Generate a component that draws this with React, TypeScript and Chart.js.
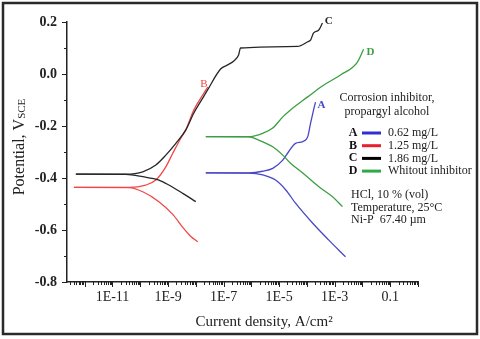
import React, { useEffect, useRef } from "react";
import { Chart, registerables } from "chart.js";

Chart.register(...registerables);

const SERIF = '"Liberation Serif", "Times New Roman", serif';

// Current density (A/cm²) and potential (V vs SCE)
const aAnodicX = [2.29e-8, 7.94e-7, 2.57e-6, 5.89e-6, 1.35e-5, 2.19e-5, 3.89e-5, 7.08e-5, 1.07e-4, 1.35e-4, 1.74e-4, 2.04e-4];
const aAnodicY = [-0.38, -0.38, -0.374, -0.363, -0.331, -0.299, -0.267, -0.26, -0.241, -0.19, -0.138, -0.108];
const aCathodicX = [2.29e-8, 7.94e-7, 2.57e-6, 7.41e-6, 1.74e-5, 3.89e-5, 1.62e-4, 6.03e-4, 2.45e-3];
const aCathodicY = [-0.38, -0.381, -0.388, -0.408, -0.446, -0.497, -0.574, -0.638, -0.703];

const bAnodicX = [4.07e-13, 3.89e-11, 1.58e-10, 3.63e-10, 8.32e-10, 1.48e-9, 2.88e-9, 4.37e-9, 8.51e-9, 1.91e-8, 2.69e-8];
const bAnodicY = [-0.436, -0.436, -0.427, -0.408, -0.357, -0.305, -0.247, -0.215, -0.138, -0.075, -0.05];
const bCathodicX = [4.07e-13, 3.89e-11, 1.23e-10, 4.68e-10, 1.48e-9, 3.39e-9, 6.61e-9, 1.17e-8];
const bCathodicY = [-0.436, -0.437, -0.453, -0.491, -0.54, -0.59, -0.625, -0.645];

const cAnodicX = [4.79e-13, 3.02e-11, 1.23e-10, 3.63e-10, 8.32e-10, 1.91e-9, 4.37e-9, 8.51e-9, 1.91e-8, 2.69e-8, 7.94e-8, 1.41e-7, 2.34e-7, 3.47e-7, 4.07e-7, 4.68e-5, 1.07e-4, 1.35e-4, 1.74e-4, 2.63e-4, 3.63e-4];
const cAnodicY = [-0.385, -0.385, -0.376, -0.35, -0.312, -0.267, -0.215, -0.15, -0.087, -0.06, 0.02, 0.035, 0.05, 0.073, 0.1, 0.106, 0.124, 0.13, 0.158, 0.168, 0.196];
const cCathodicX = [4.79e-13, 3.02e-11, 1.23e-10, 4.68e-10, 1.07e-9, 3.39e-9, 1e-8];
const cCathodicY = [-0.385, -0.386, -0.395, -0.408, -0.427, -0.459, -0.491];

const dAnodicX = [2.29e-8, 7.94e-7, 2.57e-6, 5.89e-6, 1.35e-5, 2.57e-5, 1.07e-4, 3.72e-4, 1.62e-3, 6.61e-3, 1.1e-2];
const dAnodicY = [-0.241, -0.241, -0.228, -0.208, -0.165, -0.138, -0.088, -0.045, -0.004, 0.046, 0.095];
const dCathodicX = [2.29e-8, 7.94e-7, 1.82e-6, 5.89e-6, 1.35e-5, 2.57e-5, 7.08e-5, 2.63e-4, 8.32e-4, 1.91e-3];
const dCathodicY = [-0.241, -0.242, -0.254, -0.28, -0.312, -0.343, -0.381, -0.433, -0.472, -0.51];

const curveKeys = ["A", "B", "C", "D"];
const curveColors = ["#4848c8", "#f04848", "#262626", "#3c9e42"];
const legendColors = ["#3030d0", "#e8202c", "#000000", "#2faa48"];
const legendLabels = ["0.62 mg/L", "1.25 mg/L", "1.86 mg/L", "Whitout inhibitor"];
// curve label anchors (current density, potential)
const curveLabelX = [2.4e-4, 1.45e-8, 4.4e-4, 1.4e-2];
const curveLabelY = [-0.118, -0.04, 0.205, 0.085];

const legendTitle = ["Corrosion inhibitor,", "propargyl alcohol"];
const conditions = ["HCl, 10 % (vol)", "Temperature, 25°C", "Ni-P  67.40 µm"];

const X_MIN = 2.3e-13;
const X_MAX = 1;
const Y_MIN = -0.8;
const Y_MAX = 0.2;

const zip = (xs: number[], ys: number[]) => xs.map((x, i) => ({ x, y: ys[i] }));

const isDecade = (v: number) => {
  const e = Math.log10(v);
  return Math.abs(e - Math.round(e)) < 1e-6;
};

const decorPlugin = {
  id: "decor",
  afterDraw(chart: any) {
    const ctx = chart.ctx as CanvasRenderingContext2D;
    const xs = chart.scales.x;
    const ys = chart.scales.y;
    const area = chart.chartArea;
    ctx.save();
    // tick marks
    ctx.strokeStyle = "#222";
    ctx.lineWidth = 1;
    xs.ticks.forEach((t: any) => {
      const px = Math.round(xs.getPixelForValue(t.value)) + 0.5;
      const len = isDecade(t.value) ? 5 : 3;
      ctx.beginPath();
      ctx.moveTo(px, area.bottom);
      ctx.lineTo(px, area.bottom + len);
      ctx.stroke();
    });
    ys.ticks.forEach((t: any) => {
      const py = Math.round(ys.getPixelForValue(t.value)) + 0.5;
      const major = Math.abs(Math.round(t.value * 10)) % 2 === 0;
      const len = major ? 5 : 3;
      ctx.beginPath();
      ctx.moveTo(area.left, py);
      ctx.lineTo(area.left - len, py);
      ctx.stroke();
    });

    // axis titles
    ctx.fillStyle = "#222";
    ctx.textBaseline = "middle";
    ctx.textAlign = "left";
    const main = "Potential, V";
    const sub = "SCE";
    ctx.font = `16px ${SERIF}`;
    const w1 = ctx.measureText(main).width;
    ctx.font = `11px ${SERIF}`;
    const w2 = ctx.measureText(sub).width;
    ctx.save();
    ctx.translate(20, 147);
    ctx.rotate(-Math.PI / 2);
    ctx.font = `16px ${SERIF}`;
    ctx.fillText(main, -(w1 + w2) / 2, 0);
    ctx.font = `11px ${SERIF}`;
    ctx.fillText(sub, -(w1 + w2) / 2 + w1, 2);
    ctx.restore();

    ctx.font = `15px ${SERIF}`;
    ctx.textAlign = "center";
    ctx.fillText("Current density, A/cm²", 264, 322);

    // curve labels
    curveKeys.forEach((k, i) => {
      ctx.fillStyle = curveColors[i];
      ctx.font = `${i === 1 ? "" : "bold "}11px ${SERIF}`;
      ctx.textAlign = "left";
      ctx.fillText(k, xs.getPixelForValue(curveLabelX[i]), ys.getPixelForValue(curveLabelY[i]));
    });

    // legend block
    ctx.fillStyle = "#222";
    ctx.font = `12px ${SERIF}`;
    ctx.textAlign = "center";
    legendTitle.forEach((s, i) => ctx.fillText(s, 387, 98 + i * 14));
    curveKeys.forEach((k, i) => {
      const y = 133 + i * 12.7;
      ctx.fillStyle = "#111";
      ctx.font = `bold 12px ${SERIF}`;
      ctx.textAlign = "center";
      ctx.fillText(k, 353, y);
      ctx.strokeStyle = legendColors[i];
      ctx.lineWidth = 3;
      ctx.beginPath();
      ctx.moveTo(362, y);
      ctx.lineTo(381, y);
      ctx.stroke();
      ctx.fillStyle = "#222";
      ctx.font = `12px ${SERIF}`;
      ctx.textAlign = "left";
      ctx.fillText(legendLabels[i], 388, y);
    });
    ctx.textAlign = "left";
    conditions.forEach((s, i) => ctx.fillText(s, 351, 195 + i * 12.5));

    // outer frame
    ctx.strokeStyle = "#2a2a2a";
    ctx.lineWidth = 2.5;
    ctx.strokeRect(3, 3, 474, 331);
    ctx.restore();
  },
};

const bgPlugin = {
  id: "bg",
  beforeDraw(chart: any) {
    const ctx = chart.ctx;
    ctx.save();
    ctx.fillStyle = "#ffffff";
    ctx.fillRect(0, 0, chart.width, chart.height);
    ctx.restore();
  },
};

export default function App() {
  const ref = useRef<HTMLCanvasElement | null>(null);
  useEffect(() => {
    document.body.style.margin = "0";
    if (!ref.current) return;
    const mk = (xs: number[], ys: number[], i: number) => ({
      data: zip(xs, ys),
      borderColor: curveColors[i],
      borderWidth: 1.3,
      pointRadius: 0,
      fill: false,
      cubicInterpolationMode: "monotone" as const,
    });
    const chart = new Chart(ref.current, {
      type: "line",
      data: {
        datasets: [
          mk(dAnodicX, dAnodicY, 3),
          mk(dCathodicX, dCathodicY, 3),
          mk(aAnodicX, aAnodicY, 0),
          mk(aCathodicX, aCathodicY, 0),
          mk(cAnodicX, cAnodicY, 2),
          mk(cCathodicX, cCathodicY, 2),
          mk(bAnodicX, bAnodicY, 1),
          mk(bCathodicX, bCathodicY, 1),
        ],
      },
      options: {
        animation: false,
        responsive: false,
        devicePixelRatio: 1,
        layout: { padding: { top: 22, right: 62, left: 0, bottom: 0 } },
        plugins: { legend: { display: false }, tooltip: { enabled: false } },
        scales: {
          x: {
            type: "logarithmic",
            min: X_MIN,
            max: X_MAX,
            afterFit: (s: any) => {
              s.height = 57;
            },
            afterBuildTicks: (s: any) => {
              const t: any[] = [];
              for (let e = -13; e <= 0; e++) {
                for (let m = 1; m <= 9; m++) {
                  const v = m * Math.pow(10, e);
                  if (v >= X_MIN && v <= X_MAX * 1.0001) t.push({ value: v });
                }
              }
              s.ticks = t;
            },
            grid: { display: false, drawTicks: false },
            border: { display: true, color: "#222", width: 1.5 },
            ticks: {
              autoSkip: false,
              maxRotation: 0,
              padding: 7,
              color: "#222",
              font: { family: SERIF, size: 14 },
              callback: (value: any) => {
                const v = Number(value);
                const e = Math.log10(v);
                const r = Math.round(e);
                if (Math.abs(e - r) < 1e-6 && Math.abs(r) % 2 === 1) return r === -1 ? "0.1" : "1E" + r;
                return "";
              },
            },
          },
          y: {
            type: "linear",
            min: Y_MIN,
            max: Y_MAX,
            afterFit: (s: any) => {
              s.width = 67;
            },
            grid: { display: false, drawTicks: false },
            border: { display: true, color: "#222", width: 1.5 },
            ticks: {
              stepSize: 0.1,
              padding: 10,
              color: "#222",
              font: { family: SERIF, size: 14, weight: "bold" },
              callback: (value: any) => {
                const v = Number(value);
                const k = Math.round(v * 10);
                return Math.abs(k) % 2 === 0 ? (k / 10).toFixed(1) : "";
              },
            },
          },
        },
      },
      plugins: [bgPlugin, decorPlugin],
    });
    return () => chart.destroy();
  }, []);
  return (
    <div style={{ width: 480, height: 339 }}>
      <canvas ref={ref} width={480} height={339} style={{ display: "block" }} />
    </div>
  );
}
